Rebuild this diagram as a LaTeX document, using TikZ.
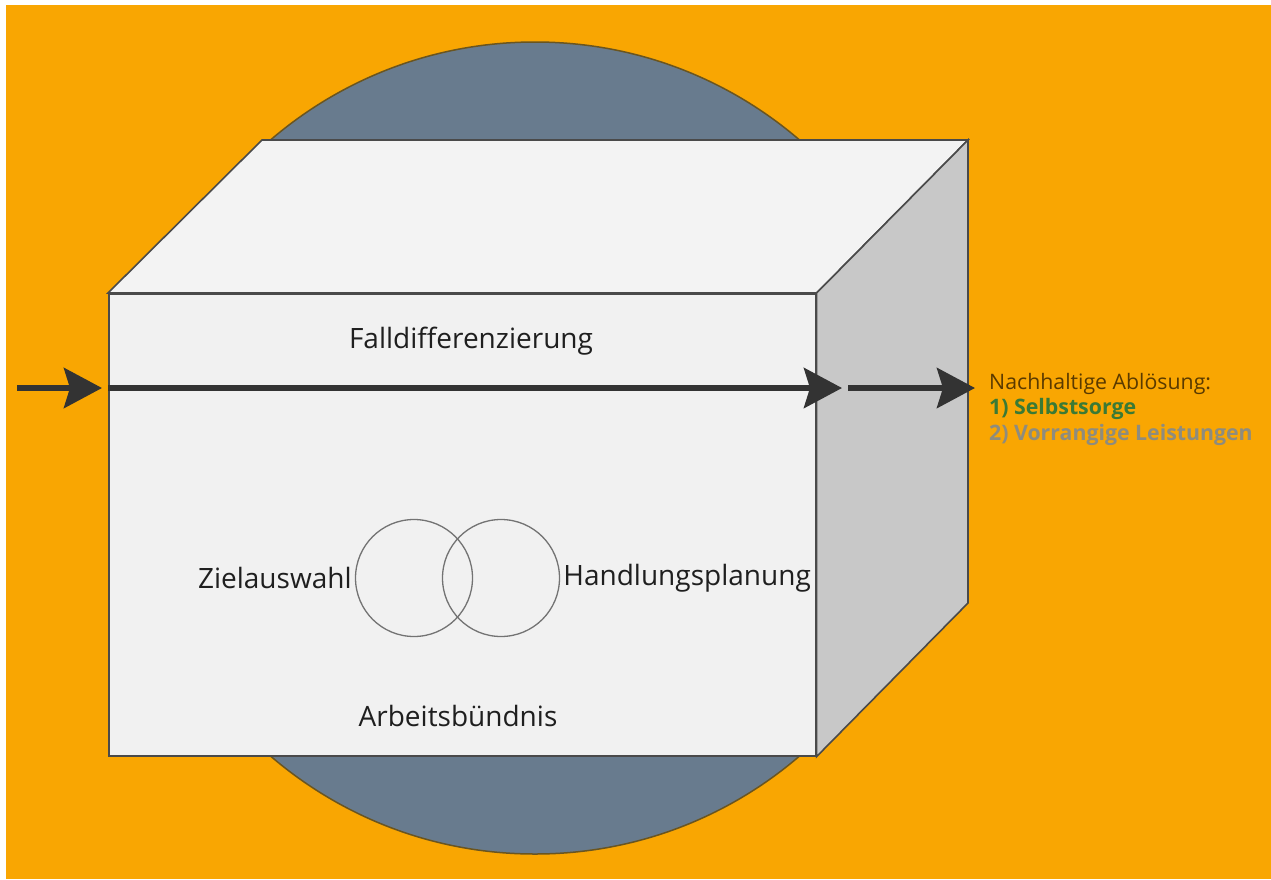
\documentclass[tikz,border=0pt]{standalone}
\usepackage{fontspec}
\setmainfont{Open Sans}
\usetikzlibrary{arrows.meta}
\definecolor{bgorange}{HTML}{F9A602}
\definecolor{disc}{HTML}{687B8E}
\definecolor{discline}{HTML}{6A5520}
\definecolor{facefront}{HTML}{F1F1F1}
\definecolor{facetop}{HTML}{F3F3F3}
\definecolor{faceside}{HTML}{C8C8C8}
\definecolor{edgegray}{HTML}{4A4A4A}
\definecolor{arrowgray}{HTML}{333333}
\definecolor{txtbrown}{HTML}{5A3A00}
\definecolor{txtgreen}{HTML}{3A7A35}
\definecolor{txtgray}{HTML}{8E8C7E}
\tikzset{
  face/.style={draw=edgegray, line width=1.6pt, line join=miter},
  flow/.style={draw=arrowgray, line width=6pt, -{Stealth[length=38pt,width=40pt,inset=6pt]}},
  lbl/.style={font=\fontsize{28}{32}\selectfont, text=black!88, inner sep=0pt},
  venn/.style={draw=black!55, line width=1.3pt},
}
\begin{document}
\begin{tikzpicture}[x=1pt,y=-1pt]
\useasboundingbox (0,0) rectangle (1271,879);
\fill[white] (0,0) rectangle (1271,879);
\fill[bgorange] (6,5) rectangle (1271,879);
% disc
\filldraw[fill=disc, draw=discline, line width=1.5pt] (535,448) circle[radius=406pt];
% box
\node[face, fill=facefront, minimum width=707pt, minimum height=462pt, inner sep=0pt, anchor=north west] (front) at (108,293) {};
\filldraw[face, fill=facetop] (front.north west) -- (262,140) -- (968,140) -- (front.north east) -- cycle;
\filldraw[face, fill=faceside] (front.north east) -- (968,140) -- (968,603) -- (front.south east) -- cycle;
% texts
\node[lbl] (fall) at (471,341) {Falldifferenzierung};
\node[lbl] (arb) at (458,716) {Arbeitsbündnis};
\node[venn, circle, minimum size=117pt, inner sep=0pt] (vl) at (414,578) {};
\node[venn, circle, minimum size=117pt, inner sep=0pt] (vr) at (501,578) {};
\node[lbl, anchor=east] (ziel) at ([xshift=-3pt]vl.west) {Zielauswahl};
\node[lbl, anchor=west] (hand) at ([xshift=3pt]vr.east) {Handlungsplanung};
% output label
\node[anchor=west, align=left, inner sep=0pt, font=\fontsize{21.3}{25.5}\selectfont] (out) at (989,409)
  {\textcolor{txtbrown}{Nachhaltige Ablösung:}\\
   \textcolor{txtgreen}{\bfseries 1) Selbstsorge}\\
   \textcolor{txtgray}{\bfseries 2) Vorrangige Leistungen}};
% arrows
\coordinate (start) at (17,388);
\coordinate (entry) at (front.west |- start);
\coordinate (exitpt) at (842,388);
\coordinate (after) at (848,388);
\coordinate (target) at (975,388);
\draw[flow] (start) -- ([xshift=-6pt]entry);
\draw[flow] (entry) -- (exitpt);
\draw[flow] (after) -- (target);
\end{tikzpicture}
\end{document}
